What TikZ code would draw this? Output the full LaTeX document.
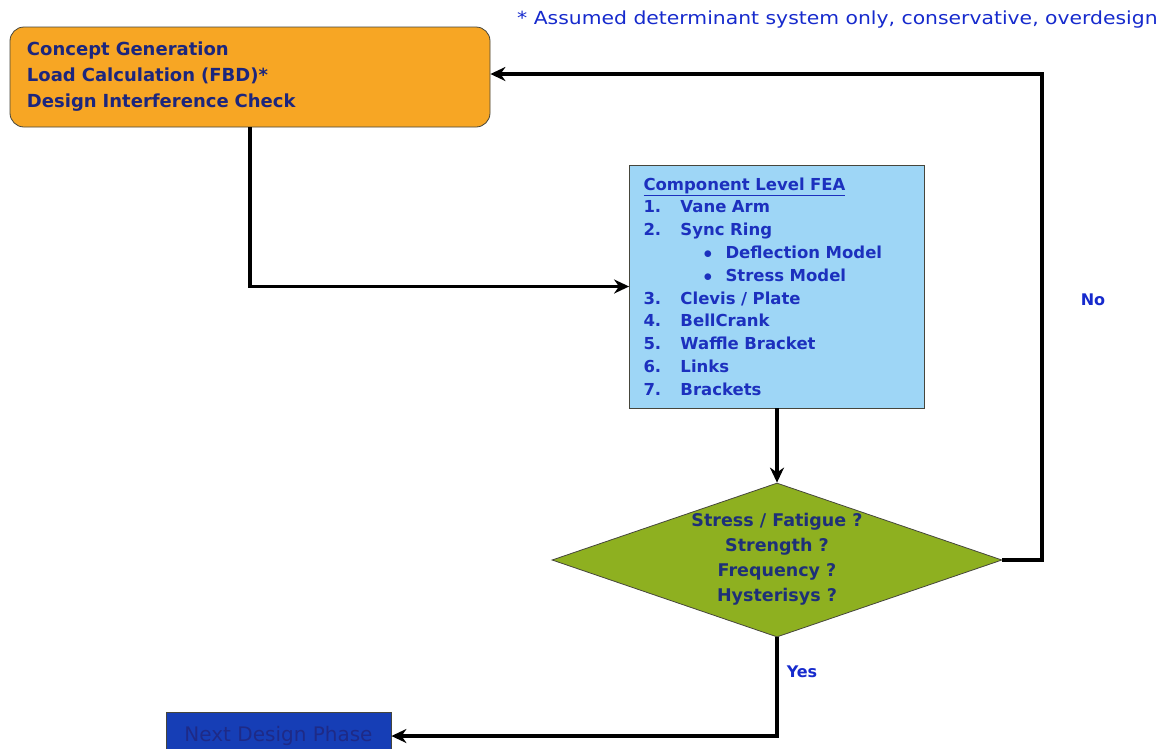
\documentclass[tikz,border=0pt]{standalone}
\usepackage{fontspec}
\setmainfont{DejaVu Sans}
\usetikzlibrary{shapes.geometric,arrows.meta}

\definecolor{orangefill}{RGB}{247,166,36}
\definecolor{navytext}{RGB}{28,38,125}
\definecolor{skyfill}{RGB}{158,214,246}
\definecolor{listblue}{RGB}{28,48,190}
\definecolor{olivefill}{RGB}{142,176,32}
\definecolor{olivetext}{RGB}{30,48,120}
\definecolor{nextfill}{RGB}{22,62,182}
\definecolor{nexttext}{RGB}{30,42,135}
\definecolor{notetext}{RGB}{22,42,205}
\definecolor{edgegray}{RGB}{70,70,60}

\tikzset{
  flowline/.style={line width=3.4pt, draw=black, -{Stealth[length=15pt,width=14pt]}},
  conceptbox/.style={draw=edgegray, line width=0.8pt, fill=orangefill, rounded corners=14pt,
    minimum width=480pt, minimum height=100pt, text width=446pt, inner sep=0pt, align=left,
    text=navytext, font=\fontsize{18}{26}\selectfont\bfseries},
  feabox/.style={draw=edgegray, line width=0.8pt, fill=skyfill,
    minimum width=295pt, minimum height=243pt, text width=267pt, inner sep=0pt, align=left,
    text=listblue, font=\fontsize{16.5}{22.8}\selectfont\bfseries},
  checkbox/.style={diamond, draw=edgegray, line width=0.8pt, fill=olivefill,
    minimum width=450pt, minimum height=154pt, inner sep=0pt},
  checktext/.style={inner sep=0pt, align=center,
    text=olivetext, font=\fontsize{17.5}{25}\selectfont\bfseries},
  nextbox/.style={draw=edgegray, line width=0.8pt, fill=nextfill,
    minimum width=225pt, minimum height=48pt, inner sep=0pt,
    text=nexttext, font=\fontsize{20}{24}\selectfont},
  answer/.style={text=notetext, font=\fontsize{16}{20}\selectfont\bfseries},
}

\newcommand{\feanum}[1]{\makebox[37pt][l]{#1}}
\newcommand{\feasub}[1]{\hspace*{60pt}\makebox[22pt][l]{$\bullet$}#1}

\begin{document}
\begin{tikzpicture}[x=1pt, y=-1pt]
  \clip (0,0) rectangle (1165,748);
  \fill[white] (0,0) rectangle (1165,748);

  % footnote on the simplified load case
  \node[anchor=west, text=notetext, font=\fontsize{18}{20}\selectfont, inner sep=0pt]
    (note) at (517,20) {\scalebox{1.13}[1]{* Assumed determinant system only, conservative, overdesign}};

  % process steps
  \node[conceptbox] (concept) at (250,77)
    {Concept Generation\\Load Calculation (FBD)*\\Design Interference Check};

  \node[feabox] (fea) at (777,286.5)
    {\underline{Component Level FEA}\\
     \feanum{1.}Vane Arm\\
     \feanum{2.}Sync Ring\\
     \feasub{Deflection Model}\\
     \feasub{Stress Model}\\
     \feanum{3.}Clevis / Plate\\
     \feanum{4.}BellCrank\\
     \feanum{5.}Waffle Bracket\\
     \feanum{6.}Links\\
     \feanum{7.}Brackets};

  \node[checkbox] (check) at (777,560) {};
  \node[checktext] (checkq) at ([yshift=1pt]check.center)
    {Stress / Fatigue ?\\Strength ?\\Frequency ?\\Hysterisys ?};

  \node[nextbox] (next) at (278.5,736) {Next Design Phase};

  % return path for a failed check
  \coordinate (loop) at (1042,74);

  % connectors
  \draw[flowline] (concept.south) |- (fea.west);
  \draw[flowline] (fea.south) -- (check.north);
  \draw[flowline] (check.east) -| (loop) -- (concept.east |- loop);
  \draw[flowline] (check.south) |- (next.east);

  % branch labels
  \node[answer] (no) at (1093,300) {No};
  \node[answer] (yes) at (802,672) {Yes};
\end{tikzpicture}
\end{document}
